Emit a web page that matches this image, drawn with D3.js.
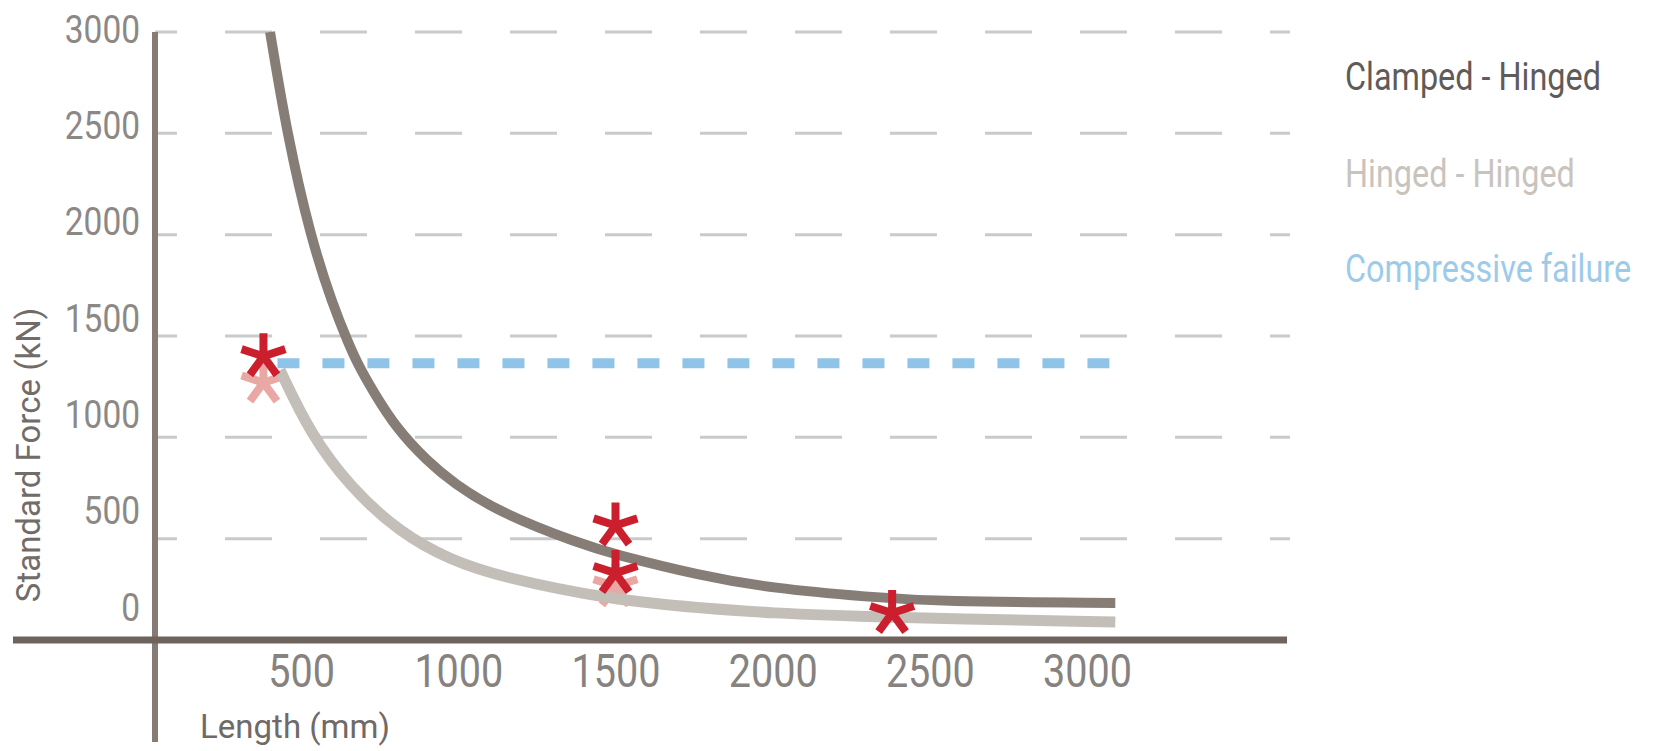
<!DOCTYPE html>
<html>
<head>
<meta charset="utf-8">
<script src="https://cdn.jsdelivr.net/npm/d3@7"></script>
<style>
    body { margin: 0; background: #fff; }
    text { font-family: Roboto, "Open Sans", sans-serif; font-weight: 400; }
</style>
</head>
<body>
<div id="chart"></div>
<script>
// values (length in mm, force in kN)
var clampedLength = [401, 455, 528, 601, 649, 678, 729, 805, 900, 983, 1133, 1387, 1492, 1769, 1998, 2310, 2523, 3090];
var clampedForce = [3000, 2497, 1998, 1650, 1470, 1367, 1226, 1040, 885, 775, 627, 475, 425, 318, 255, 212, 189, 183];

var hingedLength = [433, 528, 655, 815, 974, 1133, 1492, 1769, 1992, 2310, 3090];
var hingedForce = [1332, 1021, 755, 528, 395, 311, 197, 158, 133, 113, 89];

var failureLength = [380, 3090];
var failureForce = [1365, 1365];

// test points (asterisks)
var testLength = [380, 1500, 1500, 2380];
var testForce = [1400, 565, 330, 133];
var ghostLength = [380, 1500];
var ghostForce = [1270, 265];

var forceTicks = [0, 500, 1000, 1500, 2000, 2500, 3000];
var lengthTicks = [500, 1000, 1500, 2000, 2500, 3000];
var legendNames = ["Clamped - Hinged", "Hinged - Hinged", "Compressive failure"];

var svgWidth = 1667;
var svgHeight = 751;
var axisX = 155;      // where the vertical axis is drawn
var gridEnd = 1290;

var svg = d3.select("#chart")
    .append("svg")
    .attr("width", svgWidth)
    .attr("height", svgHeight);

svg.append("rect")
    .attr("width", svgWidth)
    .attr("height", svgHeight)
    .attr("fill", "#fff");

var xScale = d3.scaleLinear().domain([0, 3000]).range([144, 1087]);
var yScale = d3.scaleLinear().domain([0, 3000]).range([640, 32]);
// the tick labels sit a bit off the grid in the original
var yLabelScale = d3.scaleLinear().domain([0, 3000]).range([620, 42]);

// dashed grid
svg.append("g")
    .selectAll("line")
    .data(forceTicks.filter(d => d > 0))
    .enter()
    .append("line")
    .attr("x1", axisX)
    .attr("x2", gridEnd)
    .attr("y1", d => yScale(d))
    .attr("y2", d => yScale(d))
    .attr("stroke", "#cacaca")
    .attr("stroke-width", 3)
    .attr("stroke-dasharray", "47 48")
    .attr("stroke-dashoffset", 25);

// asterisk with five arms
var asterisk = {
    draw: function (context, size) {
        var r = Math.sqrt(size);
        for (var i = 0; i < 5; i++) {
            var a = -Math.PI / 2 + i * 2 * Math.PI / 5;
            context.moveTo(0, 0);
            context.lineTo(r * Math.cos(a), r * Math.sin(a));
        }
    }
};
var starPath = d3.symbol().type(asterisk).size(23 * 23);

// faded asterisks behind the curves
svg.append("g")
    .selectAll("path")
    .data(ghostLength)
    .enter()
    .append("path")
    .attr("d", starPath)
    .attr("transform", (d, i) => `translate(${xScale(d)}, ${yScale(ghostForce[i])})`)
    .attr("fill", "none")
    .attr("stroke", "#eaa8a4")
    .attr("stroke-width", 8);

var line = d3.line()
    .x(d => xScale(d[0]))
    .y(d => yScale(d[1]))
    .curve(d3.curveBasis);

svg.append("path")
    .attr("d", line(d3.zip(hingedLength, hingedForce)))
    .attr("fill", "none")
    .attr("stroke", "#c4beb8")
    .attr("stroke-width", 11);

svg.append("path")
    .attr("d", line(d3.zip(clampedLength, clampedForce)))
    .attr("fill", "none")
    .attr("stroke", "#877d77")
    .attr("stroke-width", 10);

svg.append("path")
    .attr("d", line(d3.zip(failureLength, failureForce)))
    .attr("fill", "none")
    .attr("stroke", "#8fc4e8")
    .attr("stroke-width", 10)
    .attr("stroke-dasharray", "22 23")
    .attr("stroke-dashoffset", -14);

// axes lines
svg.append("line")
    .attr("x1", axisX).attr("x2", axisX)
    .attr("y1", yScale(3000)).attr("y2", 742)
    .attr("stroke", "#877c75")
    .attr("stroke-width", 6);

svg.append("line")
    .attr("x1", 13).attr("x2", 1287)
    .attr("y1", yScale(0)).attr("y2", yScale(0))
    .attr("stroke", "#6f645d")
    .attr("stroke-width", 7);

// red asterisks
svg.append("g")
    .selectAll("path")
    .data(testLength)
    .enter()
    .append("path")
    .attr("d", starPath)
    .attr("transform", (d, i) => `translate(${xScale(d)}, ${yScale(testForce[i])})`)
    .attr("fill", "none")
    .attr("stroke", "#cc1f2d")
    .attr("stroke-width", 8);

// tick labels (narrowed to look like the condensed face of the original)
var leftAxis = d3.axisLeft(yLabelScale)
    .tickValues(forceTicks)
    .tickFormat(d3.format("d"))
    .tickSize(0)
    .tickPadding(0);
var yAxisG = svg.append("g")
    .attr("transform", "translate(140, 0)")
    .call(leftAxis);
yAxisG.select(".domain").remove();
yAxisG.selectAll("text")
    .attr("dy", 0)
    .attr("transform", "scale(0.88, 1)")
    .attr("font-size", 38)
    .attr("fill", "#8b8886");

var bottomAxis = d3.axisBottom(xScale)
    .tickValues(lengthTicks)
    .tickFormat(d3.format("d"))
    .tickSize(0)
    .tickPadding(0);
var xAxisG = svg.append("g")
    .attr("transform", "translate(0, 687)")
    .call(bottomAxis);
xAxisG.select(".domain").remove();
xAxisG.selectAll("text")
    .attr("y", 0)
    .attr("dy", 0)
    .attr("transform", "scale(0.86, 1)")
    .attr("font-size", 46)
    .attr("fill", "#858280");
svg.selectAll(".tick text").attr("font-family", null);

// axis titles
svg.append("text")
    .attr("transform", "translate(40, 455) rotate(-90)")
    .attr("text-anchor", "middle")
    .attr("font-size", 33)
    .attr("fill", "#716c69")
    .text("Standard Force (kN)");

svg.append("text")
    .attr("x", 295)
    .attr("y", 738)
    .attr("text-anchor", "middle")
    .attr("font-size", 33)
    .attr("fill", "#6f6a67")
    .text("Length (mm)");

// legend
var legendColors = ["#5f5b58", "#c9c3be", "#9ccbea"];
svg.append("g")
    .selectAll("text")
    .data(legendNames)
    .enter()
    .append("text")
    .attr("transform", (d, i) => `translate(1345, ${[90, 187, 282][i]}) scale(0.83, 1)`)
    .attr("font-size", 39)
    .attr("fill", (d, i) => legendColors[i])
    .text(d => d);
</script>
</body>
</html>
